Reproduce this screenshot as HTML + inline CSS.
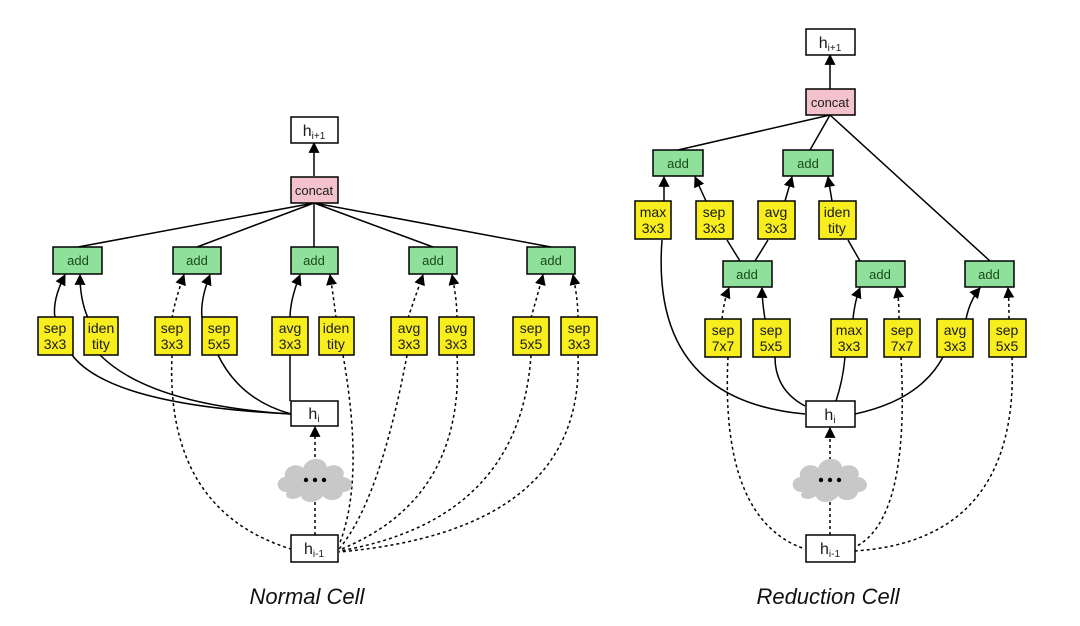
<!DOCTYPE html>
<html><head><meta charset="utf-8"><style>
html,body{margin:0;padding:0;background:#fff;}
svg{display:block;}
text{font-family:"Liberation Sans",sans-serif;}
</style></head><body>
<svg width="1080" height="626" viewBox="0 0 1080 626" xmlns="http://www.w3.org/2000/svg">
<defs>
<marker id="a" viewBox="0 0 10 10" refX="9" refY="5" markerWidth="11" markerHeight="11" markerUnits="userSpaceOnUse" orient="auto">
<path d="M0,0 L10,5 L0,10 z" fill="#000"/></marker>
<g id="cloud">
<path d="M-28,12 C-40,12 -40,-2 -30,-3 C-32,-14 -18,-18 -12,-12 C-8,-24 10,-24 12,-13 C20,-18 32,-12 28,-3 C40,-2 40,12 28,12 C26,22 12,22 8,16 C2,24 -12,24 -14,16 C-22,22 -32,18 -28,12 z" fill="#c8c8c8"/>
<circle cx="-9" cy="0" r="2.2" fill="#000"/><circle cx="0" cy="0" r="2.2" fill="#000"/><circle cx="9" cy="0" r="2.2" fill="#000"/>
</g>
</defs>
<g fill="none" stroke="#000" stroke-width="1.5">
<line x1="314" y1="176" x2="314" y2="143" marker-end="url(#a)"/>
<path d="M314,203 L78,247 M314,203 L197,247 M314,203 L314,247 M314,203 L433,247 M314,203 L551,247"/>
<path d="M55,318 Q52,300 65,275" marker-end="url(#a)"/>
<path d="M88,318 Q80,300 80,275" marker-end="url(#a)"/>
<path d="M202,318 Q200,300 210,275" marker-end="url(#a)"/>
<path d="M290,318 Q290,300 300,275" marker-end="url(#a)"/>
<path d="M72,355 Q110,405 291,414"/>
<path d="M100,355 Q150,405 291,414"/>
<path d="M218,355 Q240,400 291,414"/>
<path d="M290,355 Q290,380 290,401"/>
<g stroke-dasharray="3,3">
<path d="M172,318 Q175,300 184,275" marker-end="url(#a)"/>
<path d="M336,318 Q334,300 330,275" marker-end="url(#a)"/>
<path d="M408,318 Q414,300 423,275" marker-end="url(#a)"/>
<path d="M457,318 Q457,300 452,275" marker-end="url(#a)"/>
<path d="M531,318 Q536,300 543,275" marker-end="url(#a)"/>
<path d="M578,318 Q578,300 573,275" marker-end="url(#a)"/>
<path d="M172,355 Q165,510 291,549"/>
<path d="M315,535 L315,502"/>
<path d="M315,457 L315,427" marker-end="url(#a)"/>
<path d="M343,355 Q365,480 339,545"/>
<path d="M407,355 Q380,500 339,549"/>
<path d="M457,355 Q465,500 339,550"/>
<path d="M531,355 Q520,520 339,551"/>
<path d="M578,355 Q585,530 339,552"/>
<path d="M722,319 Q724,300 729,288" marker-end="url(#a)"/>
<path d="M899,319 Q899,300 897,288" marker-end="url(#a)"/>
<path d="M1009,319 Q1009,300 1008,288" marker-end="url(#a)"/>
<path d="M830,535 L830,502"/>
<path d="M830,460 L830,428" marker-end="url(#a)"/>
<path d="M728,357 Q720,520 805,549"/>
<path d="M901,357 Q910,520 855,547"/>
<path d="M1012,357 Q1020,540 855,551"/>
</g>
<line x1="830" y1="89" x2="830" y2="55" marker-end="url(#a)"/>
<path d="M830,115 L678,150 M830,115 L810,150 M830,115 L990,261"/>
<path d="M664,201 L664,177" marker-end="url(#a)"/>
<path d="M706,201 L695,177" marker-end="url(#a)"/>
<path d="M785,201 L792,177" marker-end="url(#a)"/>
<path d="M832,201 L828,177" marker-end="url(#a)"/>
<path d="M727,240 L740,261 M768,240 L755,261 M848,240 L860,261"/>
<path d="M765,319 Q762,300 762,288" marker-end="url(#a)"/>
<path d="M853,319 Q855,300 860,288" marker-end="url(#a)"/>
<path d="M966,319 Q970,300 980,288" marker-end="url(#a)"/>
<path d="M662,240 Q650,400 805,414"/>
<path d="M775,357 Q775,390 805,406"/>
<path d="M845,357 Q843,380 836,401"/>
<path d="M943,357 Q920,400 855,414"/>
</g>
<g stroke="#000" stroke-width="1.5">
<rect x="291" y="117" width="47" height="26" fill="#fff"/>
<rect x="291" y="177" width="47" height="26" fill="#f4c2cc"/>
<rect x="53" y="247" width="49" height="27" fill="#8ee09a"/>
<rect x="173" y="247" width="48" height="27" fill="#8ee09a"/>
<rect x="291" y="247" width="47" height="27" fill="#8ee09a"/>
<rect x="409" y="247" width="48" height="27" fill="#8ee09a"/>
<rect x="527" y="247" width="48" height="27" fill="#8ee09a"/>
<g fill="#f8ee1e">
<rect x="38" y="317" width="35" height="38"/><rect x="84" y="317" width="34" height="38"/>
<rect x="155" y="317" width="35" height="38"/><rect x="202" y="317" width="35" height="38"/>
<rect x="272" y="317" width="36" height="38"/><rect x="319" y="317" width="35" height="38"/>
<rect x="391" y="317" width="36" height="38"/><rect x="439" y="317" width="35" height="38"/>
<rect x="513" y="317" width="36" height="38"/><rect x="561" y="317" width="36" height="38"/>
</g>
<rect x="291" y="401" width="47" height="25" fill="#fff"/>
<rect x="291" y="535" width="47" height="27" fill="#fff"/>
<rect x="806" y="29" width="49" height="26" fill="#fff"/>
<rect x="806" y="89" width="49" height="26" fill="#f4c2cc"/>
<rect x="653" y="150" width="50" height="26" fill="#8ee09a"/>
<rect x="783" y="150" width="50" height="26" fill="#8ee09a"/>
<rect x="723" y="261" width="49" height="26" fill="#8ee09a"/>
<rect x="856" y="261" width="49" height="26" fill="#8ee09a"/>
<rect x="965" y="261" width="49" height="26" fill="#8ee09a"/>
<g fill="#f8ee1e">
<rect x="635" y="201" width="36" height="38"/><rect x="696" y="201" width="37" height="38"/>
<rect x="758" y="201" width="37" height="38"/><rect x="819" y="201" width="37" height="38"/>
<rect x="705" y="319" width="36" height="38"/><rect x="753" y="319" width="37" height="38"/>
<rect x="831" y="319" width="36" height="38"/><rect x="884" y="319" width="36" height="38"/>
<rect x="937" y="319" width="36" height="38"/><rect x="989" y="319" width="37" height="38"/>
</g>
<rect x="806" y="401" width="49" height="26" fill="#fff"/>
<rect x="806" y="535" width="49" height="27" fill="#fff"/>
</g>
<use href="#cloud" x="315" y="480"/>
<use href="#cloud" x="830" y="480"/>
<g font-size="13" text-anchor="middle" fill="#1a1a1a">
<text x="314" y="195">concat</text><text x="830" y="107">concat</text>
<g fill="#1a4a1a">
<text x="78" y="265">add</text><text x="197" y="265">add</text><text x="314" y="265">add</text><text x="433" y="265">add</text><text x="551" y="265">add</text>
<text x="678" y="168">add</text><text x="808" y="168">add</text><text x="747" y="279">add</text><text x="880" y="279">add</text><text x="989" y="279">add</text>
</g>
<g font-size="14">
<text x="55" y="333">sep</text><text x="55" y="349">3x3</text>
<text x="101" y="333">iden</text><text x="101" y="349">tity</text>
<text x="172" y="333">sep</text><text x="172" y="349">3x3</text>
<text x="219" y="333">sep</text><text x="219" y="349">5x5</text>
<text x="290" y="333">avg</text><text x="290" y="349">3x3</text>
<text x="336" y="333">iden</text><text x="336" y="349">tity</text>
<text x="409" y="333">avg</text><text x="409" y="349">3x3</text>
<text x="456" y="333">avg</text><text x="456" y="349">3x3</text>
<text x="531" y="333">sep</text><text x="531" y="349">5x5</text>
<text x="579" y="333">sep</text><text x="579" y="349">3x3</text>
<text x="653" y="217">max</text><text x="653" y="233">3x3</text>
<text x="714" y="217">sep</text><text x="714" y="233">3x3</text>
<text x="776" y="217">avg</text><text x="776" y="233">3x3</text>
<text x="837" y="217">iden</text><text x="837" y="233">tity</text>
<text x="723" y="335">sep</text><text x="723" y="351">7x7</text>
<text x="771" y="335">sep</text><text x="771" y="351">5x5</text>
<text x="849" y="335">max</text><text x="849" y="351">3x3</text>
<text x="902" y="335">sep</text><text x="902" y="351">7x7</text>
<text x="955" y="335">avg</text><text x="955" y="351">3x3</text>
<text x="1007" y="335">sep</text><text x="1007" y="351">5x5</text>
</g>
<g font-size="16">
<text x="314" y="136">h<tspan font-size="10" dy="3">i+1</tspan></text>
<text x="314" y="419">h<tspan font-size="10" dy="3">i</tspan></text>
<text x="314" y="554">h<tspan font-size="10" dy="3">i-1</tspan></text>
<text x="830" y="48">h<tspan font-size="10" dy="3">i+1</tspan></text>
<text x="830" y="420">h<tspan font-size="10" dy="3">i</tspan></text>
<text x="830" y="554">h<tspan font-size="10" dy="3">i-1</tspan></text>
</g>
</g>
<g font-size="22" font-style="italic" text-anchor="middle" fill="#111">
<text x="307" y="604">Normal Cell</text>
<text x="828" y="604">Reduction Cell</text>
</g>
</svg>
</body></html>
